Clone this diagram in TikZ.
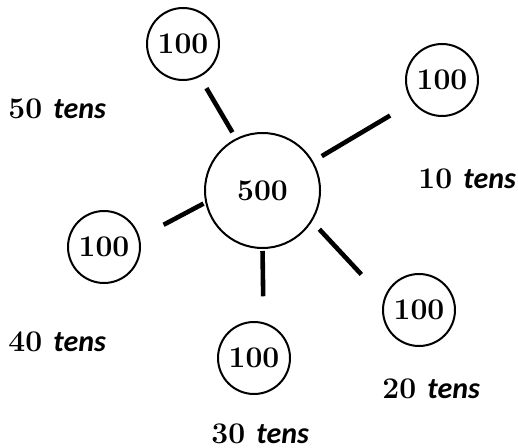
\documentclass[tikz,border=0pt]{standalone}
\usepackage{fontspec}
\newfontfamily\tensfont{Carlito}

\begin{document}
\begin{tikzpicture}[x=0.5pt, y=-0.5pt,
    hundred/.style={draw, circle, line width=1pt, minimum size=36pt,
        inner sep=0pt, font=\fontsize{15}{17}\selectfont\bfseries},
    total/.style={hundred, minimum size=57.5pt},
    spoke/.style={line width=2.3pt},
    tenlabel/.style={anchor=west, inner sep=0pt,
        font=\fontsize{15}{17}\selectfont\bfseries}]
        \useasboundingbox (0, 0) rectangle (518, 448);
        % the five hundreds round the total
        \node[total] (tot) at (262.5, 190.5) {500};
        \node[hundred] (top) at (183, 44) {100};
        \node[hundred] (rt) at (442, 80) {100};
        \node[hundred] (lf) at (104, 247) {100};
        \node[hundred] (bt) at (254, 358) {100};
        \node[hundred] (rb) at (419, 310) {100};
        \draw[spoke, shorten <=3.5pt, shorten >=6.5pt] (tot.117) -- (top.297);
        \draw[spoke, shorten <=5pt, shorten >=13pt] (tot.30) -- (rt.217);
        \draw[spoke, shorten <=1pt, shorten >=13.5pt] (tot.192) -- (lf.15);
        \draw[spoke, shorten <=1pt, shorten >=13pt] (tot.270) -- (bt.75);
        \draw[spoke, shorten <=5.3pt, shorten >=16.5pt] (tot.-32) -- (rb.162);
        % counts in tens
        \node[tenlabel] (t50) at (8, 109) {50 {\tensfont\itshape tens}};
        \node[tenlabel] (t10) at (418, 179) {10 {\tensfont\itshape tens}};
        \node[tenlabel] (t40) at (8, 342) {40 {\tensfont\itshape tens}};
        \node[tenlabel] (t20) at (382, 389) {20 {\tensfont\itshape tens}};
        \node[tenlabel] (t30) at (211, 434) {30 {\tensfont\itshape tens}};
    \end{tikzpicture}
\end{document}
